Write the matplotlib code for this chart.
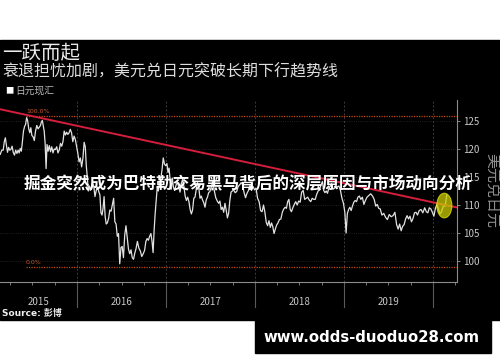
import pandas as pd
import matplotlib
matplotlib.use('Agg')
import matplotlib.pyplot as plt
import matplotlib.dates as mdates
from matplotlib.patches import Rectangle, Ellipse

plt.rcParams['font.family'] = ['Noto Sans CJK SC', 'DejaVu Sans']
plt.rcParams['axes.unicode_minus'] = False

# 美元兑日元，每月若干个读数
months = pd.period_range('2015-02', '2020-02', freq='M')
usdjpy = [
    [118.8, 119.6, 119.0, 119.8],
    [119.8, 121.3, 122.0, 120.6, 119.4, 120.3, 119.8],
    [119.9, 120.5, 119.4, 118.9, 119.8, 119.2],
    [119.8, 119.3, 120.1, 119.6, 121.3, 123.2, 124.0],
    [124.4, 125.6, 125.0, 123.6, 122.9, 123.8, 122.4],
    [122.2, 121.5, 123.2, 124.2, 123.6, 123.9],
    [124.2, 124.8, 125.1, 124.2, 123.2, 121.0, 116.5, 120.8],
    [119.6, 120.6, 119.5, 120.4, 119.3, 120.0],
    [119.9, 120.4, 119.3, 119.8, 121.0, 120.5],
    [121.3, 123.2, 122.5, 123.0, 122.6, 122.9],
    [123.5, 122.9, 121.3, 122.3, 121.7, 120.5],
    [119.2, 117.7, 118.4, 116.8, 118.3, 121.2],
    [120.4, 117.0, 115.0, 112.5, 113.4, 112.6, 113.2],
    [113.9, 113.4, 111.5, 112.6, 113.2, 112.4],
    [111.8, 108.6, 108.2, 109.4, 111.5, 108.0, 106.6],
    [106.8, 107.6, 109.1, 108.9, 110.1, 111.2],
    [107.0, 106.6, 104.4, 104.9, 99.5, 102.4],
    [102.6, 100.6, 104.6, 106.3, 104.2, 102.1],
    [101.3, 102.0, 100.6, 100.3, 101.4, 102.2],
    [103.5, 102.3, 101.8, 100.8, 101.3],
    [101.9, 103.5, 104.0, 103.7, 104.4, 104.9],
    [103.5, 101.5, 105.5, 108.5, 110.9, 113.2, 112.5],
    [113.8, 114.7, 116.2, 118.4, 117.3, 117.0],
    [117.4, 115.8, 116.6, 114.4, 112.8, 114.8, 113.2],
    [112.6, 113.5, 114.1, 113.2, 112.3],
    [113.9, 114.6, 113.3, 111.6, 110.8, 111.4],
    [110.6, 109.2, 108.4, 109.1, 111.2, 111.4],
    [112.8, 114.0, 113.1, 111.2, 111.6, 110.9],
    [110.4, 109.6, 110.9, 111.4, 112.2, 112.4],
    [113.2, 114.2, 112.6, 111.3, 110.7],
    [110.3, 110.7, 109.2, 109.6, 108.7, 110.3],
    [109.1, 107.7, 108.5, 110.8, 112.3, 112.5],
    [112.7, 112.2, 112.4, 113.3, 113.6],
    [114.0, 113.6, 112.2, 111.3, 112.1],
    [112.6, 113.5, 112.6, 113.3, 112.7],
    [113.0, 111.2, 110.6, 109.0, 108.8],
    [110.0, 108.7, 106.9, 106.3, 107.2],
    [106.0, 106.8, 106.1, 104.9, 105.7, 106.4],
    [106.8, 107.4, 107.5, 108.7, 109.3],
    [109.6, 109.4, 110.6, 111.0, 109.2, 108.8],
    [109.5, 110.1, 110.6, 110.0, 110.7],
    [110.5, 112.3, 112.6, 111.0, 111.2],
    [111.4, 110.9, 110.6, 111.2, 111.0],
    [111.0, 111.9, 112.5, 112.8, 113.6],
    [114.2, 112.6, 112.2, 112.5, 112.1, 112.9],
    [113.3, 113.8, 112.8, 113.0, 113.5],
    [113.2, 113.4, 112.6, 111.2, 110.3],
    [108.7, 105.0, 108.5, 109.2, 109.6, 109.0],
    [109.8, 110.5, 110.8, 110.6, 111.4],
    [111.6, 111.0, 111.4, 110.1, 110.8],
    [111.4, 111.7, 112.0, 111.6],
    [111.0, 109.8, 110.1, 109.4, 109.3],
    [108.2, 108.5, 107.8, 107.4],
    [108.3, 107.9, 108.1, 108.7],
    [106.5, 105.7, 106.6, 105.4, 106.2],
    [106.5, 107.5, 108.1, 107.5, 108.0],
    [107.0, 107.6, 108.6, 108.7, 108.2],
    [109.0, 109.2, 108.6, 109.5],
    [108.8, 108.6, 109.5, 109.3, 108.7],
    [108.0, 109.4, 110.1, 109.3, 108.4],
    [108.8, 109.8, 109.8, 111.8],
]

fib_start = '2015-06-05'
fib_levels = [125.9, 98.97]
fib_labels = ['100.0%', '0.0%']
trend_dates = ['2015-02-18', '2020-04-08']
trend_values = [127.1, 109.55]
mark_date = '2020-02-16'
mark_value = 109.9
y_ticks = [100, 105, 110, 115, 120, 125]
years = [2015, 2016, 2017, 2018, 2019]
x_start, x_end = pd.Timestamp('2015-02-18'), pd.Timestamp('2020-04-08')

# 把每月读数排开成日期序列
dates, values = [], []
for m, vals in zip(months, usdjpy):
    for i, v in enumerate(vals):
        dates.append(m.start_time + pd.Timedelta(days=(i + 0.5) * m.days_in_month / len(vals)))
        values.append(v)

fig = plt.figure(figsize=(5, 3.62), dpi=100, facecolor='white')
fig.patches.append(Rectangle((0, 0.116), 1, 0.7735, transform=fig.transFigure,
                             color='black', zorder=-5))
fig.patches.append(Rectangle((0.51, 0.025), 0.472, 0.095, transform=fig.transFigure,
                             color='black', zorder=-5))

ax = fig.add_axes([0, 0.221, 0.914, 0.5028])
ax.set_facecolor('black')

for y in y_ticks:
    ax.axhline(y, color='#2c2c2c', lw=0.6, ls=':', zorder=1)
for y in range(2016, 2021):
    d = pd.Timestamp(f'{y}-01-01')
    ax.axvline(d, color='#3c3c3c', lw=0.7, ls=(0, (2, 2)), zorder=1)
    ax.axvline(d, ymin=-0.137, ymax=0, color='#5a5a5a', lw=0.8, clip_on=False)

# 斐波那契线
for lv, lb in zip(fib_levels, fib_labels):
    ax.hlines(lv, pd.Timestamp(fib_start), x_end, colors='#c4481a', lw=0.9,
              linestyles=(0, (1, 1)), zorder=2)
    ax.text(pd.Timestamp(fib_start), lv + 0.35, lb, fontsize=4.5, color='#c8582e',
            va='bottom', family='DejaVu Sans')

ax.plot(dates, values, color='#e2e2e2', lw=0.9, zorder=3)
ax.plot(pd.to_datetime(trend_dates), trend_values, color='#d41e3c', lw=1.4, zorder=4)

ax.add_patch(Ellipse((mdates.date2num(pd.Timestamp(mark_date)), mark_value), width=62, height=4.4,
                     facecolor='#cccc00', edgecolor='#e6e600', alpha=0.75, lw=0.8, zorder=5))

ax.set_xlim(x_start, x_end)
ax.set_ylim(96.25, 128.75)

ax.yaxis.tick_right()
ax.set_yticks(y_ticks)
ax.tick_params(axis='y', colors='#8c8c8c', labelcolor='#c8c8c8', length=2.5, width=0.7,
               labelsize=7, pad=2)

ax.xaxis.set_major_locator(mdates.MonthLocator(bymonth=[1, 4, 7, 10]))
ax.xaxis.set_major_formatter(plt.NullFormatter())
ax.tick_params(axis='x', which='major', colors='#8c8c8c', length=2, width=0.6)
label_pos = [x_start + (pd.Timestamp('2016-01-01') - x_start) / 2] + \
    [pd.Timestamp(f'{y}-07-02') for y in years[1:]]
ax.set_xticks(label_pos, minor=True)
ax.set_xticklabels([str(y) for y in years], minor=True)
ax.tick_params(axis='x', which='minor', length=0, pad=11, labelsize=7, labelcolor='#c8c8c8')

for s in ['top', 'left']:
    ax.spines[s].set_visible(False)
for s in ['bottom', 'right']:
    ax.spines[s].set_color('#8c8c8c')
    ax.spines[s].set_linewidth(0.8)

fig.text(0.004, 0.851, '一跃而起', fontsize=14, color='#ececec', va='center')
fig.text(0.004, 0.802, '衰退担忧加剧，美元兑日元突破长期下行趋势线', fontsize=11.5,
         color='#dedede', va='center')
fig.text(0.01, 0.749, '■', fontsize=6, color='white', va='center')
fig.text(0.03, 0.749, '日元现汇', fontsize=7, color='#bbbbbb', va='center')
fig.text(0.984, 0.475, '美元兑日元', rotation=270, fontsize=10.8, color='#8e8e8e',
         ha='center', va='center')
fig.text(0.004, 0.133, 'Source: 彭博', fontsize=6.5, weight='bold', color='#f0f0f0',
         va='center', family=['DejaVu Sans', 'Noto Sans CJK SC'])
fig.text(0.496, 0.490, '掘金突然成为巴特勒交易黑马背后的深层原因与市场动向分析',
         fontsize=12, weight='bold', color='white', ha='center', va='center')
fig.text(0.742, 0.069, 'www.odds-duoduo28.com', fontsize=10.7, weight='bold',
         color='white', ha='center', va='center', family='DejaVu Sans')

fig.savefig('out.png', dpi=100, facecolor='white')
